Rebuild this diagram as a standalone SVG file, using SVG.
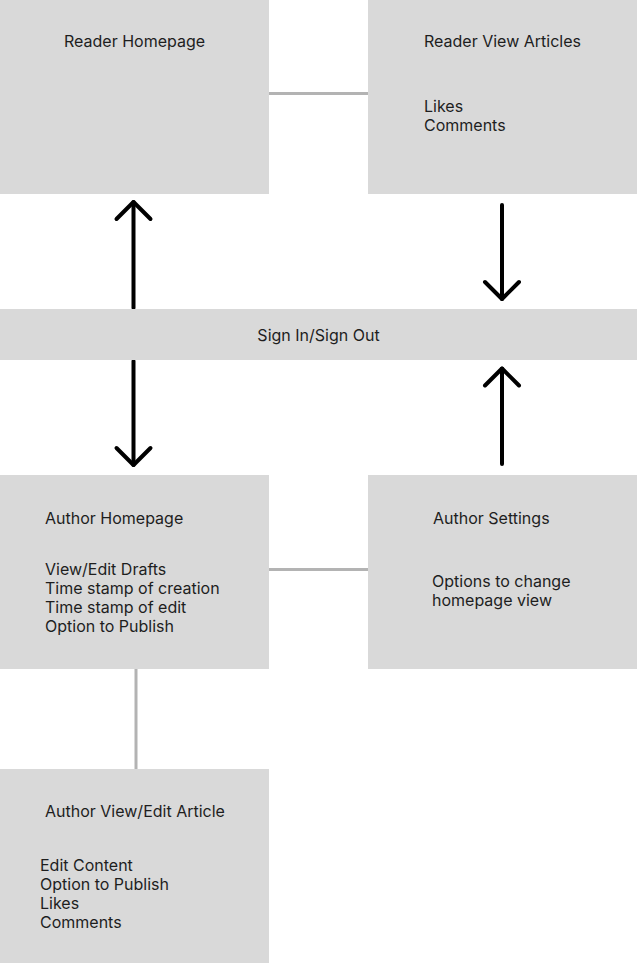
<svg xmlns="http://www.w3.org/2000/svg" width="637" height="963" viewBox="0 0 637 963">
<defs>
<style>
.box{fill:#d9d9d9}
.t{font-family:Inter,"Noto Sans","Liberation Sans",sans-serif;font-size:16px;fill:#1e1e1e}
.link{stroke:#b3b3b3;stroke-width:3;fill:none}
.arr{stroke:#000;stroke-width:4;fill:none;stroke-linecap:round;marker-end:url(#ah)}
</style>
<marker id="ah" markerUnits="userSpaceOnUse" orient="auto" overflow="visible" refX="0" refY="0" markerWidth="40" markerHeight="40">
<polyline points="-17,-17 0,0 -17,17" fill="none" stroke="#000" stroke-width="4" stroke-linecap="round" stroke-linejoin="round"/>
</marker>
</defs>
<rect width="637" height="963" fill="#fff"/>
<g id="connectors">
<line class="link" x1="269" y1="93.5" x2="368" y2="93.5"/>
<line class="link" x1="269" y1="569.5" x2="368" y2="569.5"/>
<line class="link" x1="136" y1="669" x2="136" y2="769"/>
<path class="arr" d="M133.5 308 V202"/>
<path class="arr" d="M502 205 V299"/>
<path class="arr" d="M133.5 361 V465"/>
<path class="arr" d="M502 464 V368.5"/>
</g>
<g id="reader-homepage">
<rect class="box" x="0" y="0" width="269" height="194"/>
<text class="t" x="64" y="46.5">Reader Homepage</text>
</g>
<g id="reader-view-articles">
<rect class="box" x="368" y="0" width="269" height="194"/>
<text class="t" x="424" y="47">Reader View Articles</text>
<text class="t" x="424" y="112">Likes</text>
<text class="t" x="424" y="131">Comments</text>
</g>
<g id="sign-in-out">
<rect class="box" x="0" y="309" width="637" height="51"/>
<text class="t" x="318.5" y="340.5" text-anchor="middle">Sign In/Sign Out</text>
</g>
<g id="author-homepage">
<rect class="box" x="0" y="475" width="269" height="194"/>
<text class="t" x="45" y="524">Author Homepage</text>
<text class="t" x="45" y="575">View/Edit Drafts</text>
<text class="t" x="45" y="594">Time stamp of creation</text>
<text class="t" x="45" y="613">Time stamp of edit</text>
<text class="t" x="45" y="632">Option to Publish</text>
</g>
<g id="author-settings">
<rect class="box" x="368" y="475" width="269" height="194"/>
<text class="t" x="433" y="523.5">Author Settings</text>
<text class="t" x="432" y="587">Options to change</text>
<text class="t" x="432" y="606">homepage view</text>
</g>
<g id="author-view-edit-article">
<rect class="box" x="0" y="769" width="269" height="194"/>
<text class="t" x="45" y="817">Author View/Edit Article</text>
<text class="t" x="40" y="871">Edit Content</text>
<text class="t" x="40" y="890">Option to Publish</text>
<text class="t" x="40" y="909">Likes</text>
<text class="t" x="40" y="928">Comments</text>
</g>
</svg>
